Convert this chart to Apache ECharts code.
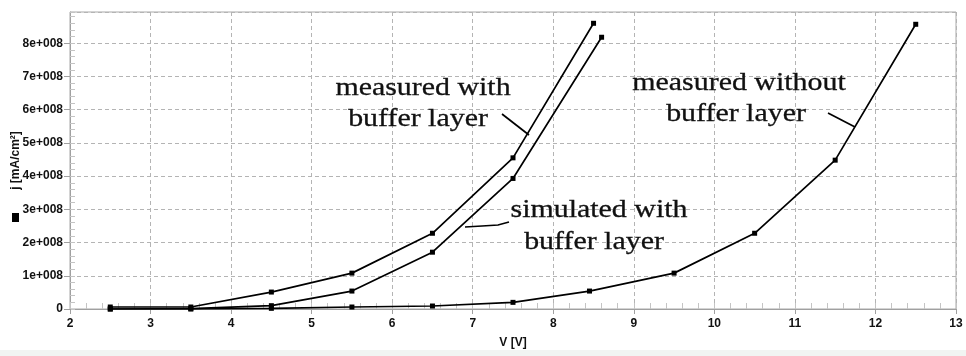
<!DOCTYPE html>
<html>
<head>
<meta charset="utf-8">
<script src="https://cdn.jsdelivr.net/npm/echarts@6/dist/echarts.min.js"></script>
<style>html,body{margin:0;padding:0;background:#fff}#c{width:966px;height:356px}</style>
</head>
<body>
<div id="c"></div>
<script>
// ---- data ----
const xTicks = [2, 3, 4, 5, 6, 7, 8, 9, 10, 11, 12, 13];
const yTickLabels = ['0', '1e+008', '2e+008', '3e+008', '4e+008', '5e+008', '6e+008', '7e+008', '8e+008'];

const vMeasWith = [2.5, 3.5, 4.5, 5.5, 6.5, 7.5, 8.5];
const jMeasWith = [0.06e8, 0.06e8, 0.51e8, 1.08e8, 2.28e8, 4.55e8, 8.6e8];

const vSimWith = [2.5, 3.5, 4.5, 5.5, 6.5, 7.5, 8.6];
const jSimWith = [0.0, 0.01e8, 0.1e8, 0.54e8, 1.71e8, 3.93e8, 8.18e8];

const vMeasWithout = [2.5, 3.5, 4.5, 5.5, 6.5, 7.5, 8.45, 9.5, 10.5, 11.5, 12.5];
const jMeasWithout = [0.0, 0.0, 0.02e8, 0.06e8, 0.09e8, 0.2e8, 0.54e8, 1.08e8, 2.28e8, 4.48e8, 8.57e8];

const annotations = [
  { lines: ['measured with', 'buffer layer'], cx: [423, 418], base: [97, 128] },
  { lines: ['simulated with', 'buffer layer'], cx: [599, 594], base: [219, 251] },
  { lines: ['measured without', 'buffer layer'], cx: [739, 736], base: [92, 123] }
];
const pointers = [
  [[502, 114], [529, 135]],
  [[465, 227], [482, 226], [498, 225], [509, 222]],
  [[828, 113], [855, 127]]
];

// ---- chart ----
const tickFont = "'Liberation Sans','Arial',sans-serif";
const serif = "'Liberation Serif','Times New Roman',serif";
const zip = (a, b) => a.map((v, i) => [v, b[i]]);

const chart = echarts.init(document.getElementById('c'), null, { renderer: 'canvas' });

const lineSeries = (name, xs, ys) => ({
  name, type: 'line', xAxisIndex: 0, yAxisIndex: 0,
  data: zip(xs, ys),
  symbol: 'rect', symbolSize: 5,
  smooth: false,
  lineStyle: { color: '#000', width: 1.7 },
  itemStyle: { color: '#000' },
  z: 5
});

const graphics = [];
annotations.forEach(a => {
  a.lines.forEach((t, i) => {
    graphics.push({
      type: 'text', x: a.cx[i], y: a.base[i] - 9, scaleX: 1.15, z: 10,
      style: { text: t, x: 0, y: 0, textAlign: 'center', textVerticalAlign: 'middle',
               font: '26px ' + serif, fill: '#111', stroke: '#111', lineWidth: 0.3 }
    });
  });
});
pointers.forEach(p => {
  graphics.push({ type: 'polyline', z: 10, shape: { points: p },
    style: { stroke: '#000', lineWidth: 1.7, fill: null } });
});
graphics.push({ type: 'rect', z: 10, shape: { x: 12, y: 213, width: 7, height: 9 }, style: { fill: '#000' } });
graphics.push({ type: 'rect', z: 0, shape: { x: 0, y: 350, width: 966, height: 6 }, style: { fill: '#f1f4f2' } });

const yMax = 8.94e8;

chart.setOption({
  animation: false,
  backgroundColor: '#fff',
  grid: { left: 70, right: 10, top: 12, bottom: 47, containLabel: false, outerBoundsMode: 'none',
          show: true, borderColor: '#a8a8a8', borderWidth: 1, backgroundColor: 'transparent' },
  xAxis: [{
    type: 'value', min: xTicks[0], max: xTicks[xTicks.length - 1], interval: 1, position: 'bottom',
    axisLine: { lineStyle: { color: '#a0a0a0', width: 1 } },
    axisTick: { length: 5, lineStyle: { color: '#a0a0a0' } },
    axisLabel: { margin: 9, color: '#111', fontFamily: tickFont, fontWeight: 'bold', fontSize: 12 },
    splitLine: { show: true, lineStyle: { type: [4, 3], color: '#b4b4b4', width: 1 } },
    name: 'V [V]', nameLocation: 'middle', nameGap: 28, nameMoveOverlap: false,
    nameTextStyle: { color: '#111', fontFamily: tickFont, fontWeight: 'bold', fontSize: 12 }
  }, {
    type: 'value', min: xTicks[0], max: xTicks[xTicks.length - 1], interval: 0.2, position: 'bottom',
    axisLine: { show: false },
    axisTick: { inside: true, length: 6, lineStyle: { color: '#c4c4c4' } },
    axisLabel: { show: false }, splitLine: { show: false }
  }],
  yAxis: [{
    type: 'value', min: 0, max: yMax, interval: 1e8, position: 'left',
    axisLine: { show: true, lineStyle: { color: '#a0a0a0', width: 1 } },
    axisTick: { show: true, length: 6, lineStyle: { color: '#a0a0a0' } },
    axisLabel: { margin: 7, color: '#111', fontFamily: tickFont, fontWeight: 'bold', fontSize: 12, showMaxLabel: false,
      formatter: v => { const i = Math.round(v / 1e8); return Math.abs(v - i * 1e8) < 1 ? (yTickLabels[i] || '') : ''; } },
    splitLine: { show: true, lineStyle: { type: [4, 3], color: '#b4b4b4', width: 1 } },
    name: 'j [mA/cm²]', nameLocation: 'middle', nameGap: 48, nameRotate: 90, nameMoveOverlap: false,
    nameTextStyle: { color: '#111', fontFamily: tickFont, fontWeight: 'bold', fontSize: 12 }
  }, {
    type: 'value', min: 0, max: yMax, interval: 0.2e8, position: 'left',
    axisLine: { show: false },
    axisTick: { show: true, inside: true, length: 5, lineStyle: { color: '#c4c4c4' } },
    axisLabel: { show: false }, splitLine: { show: false }
  }],
  series: [
    lineSeries('measured with buffer layer', vMeasWith, jMeasWith),
    lineSeries('simulated with buffer layer', vSimWith, jSimWith),
    lineSeries('measured without buffer layer', vMeasWithout, jMeasWithout)
  ],
  graphic: graphics
});
</script>
</body>
</html>
